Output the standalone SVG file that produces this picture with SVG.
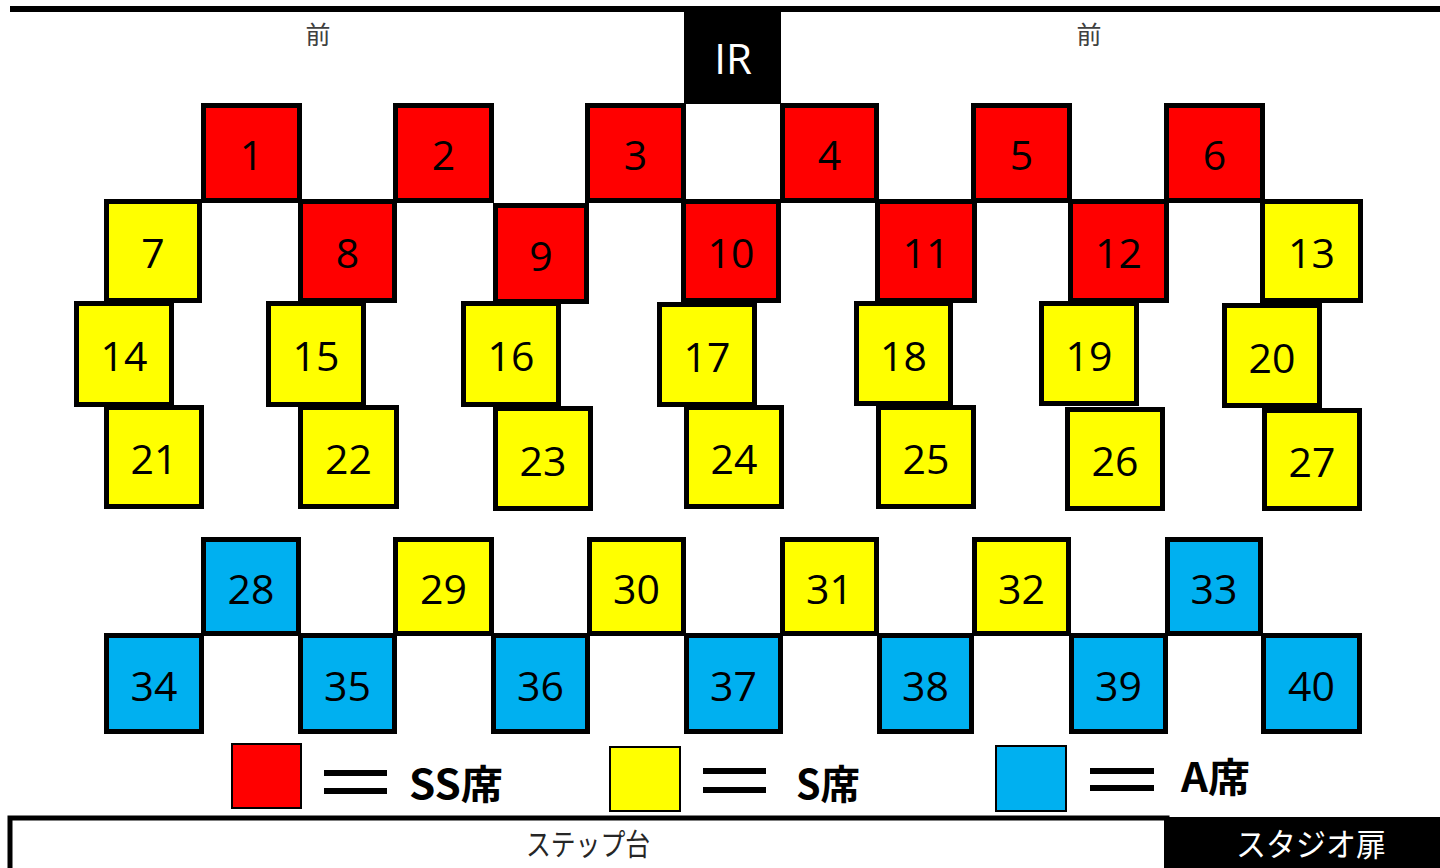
<svg xmlns="http://www.w3.org/2000/svg" width="1440" height="868" viewBox="0 0 1440 868">
<style>
.ss{fill:#FF0000;stroke:#000;stroke-width:5}
.s{fill:#FFFF00;stroke:#000;stroke-width:5}
.a{fill:#00B0F0;stroke:#000;stroke-width:5}
.num{font-family:"Open Sans","Noto Sans",sans-serif;font-size:41px;fill:#000;text-anchor:middle}
.lg{stroke:#000;stroke-width:2}
.lgt{font-family:"Noto Sans CJK JP","Noto Sans",sans-serif;font-weight:bold;font-size:40px;fill:#000}
.mae{font-family:"Noto Sans CJK JP",sans-serif;font-size:25px;fill:#404040;text-anchor:middle}
</style>
<rect width="1440" height="868" fill="#fff"/>
<g id="wall">
<line x1="10" y1="9" x2="1440" y2="9" stroke="#000" stroke-width="6"/>
<text class="mae" x="318" y="44">前</text>
<text class="mae" x="1089" y="44">前</text>
</g>
<g id="ir">
<rect x="684" y="10" width="97" height="94" fill="#000"/>
<text x="733" y="74" font-family="Open Sans,Noto Sans,sans-serif" font-size="42" fill="#fff" text-anchor="middle">IR</text>
</g>
<g id="seat-1"><rect class="ss" x="203.5" y="105.5" width="96" height="95"/><text class="num" x="251.5" y="170">1</text></g>
<g id="seat-2"><rect class="ss" x="395.5" y="105.5" width="96" height="95"/><text class="num" x="443.5" y="170">2</text></g>
<g id="seat-3"><rect class="ss" x="587.5" y="105.5" width="96" height="95"/><text class="num" x="635.5" y="170">3</text></g>
<g id="seat-4"><rect class="ss" x="782.5" y="105.5" width="94" height="95"/><text class="num" x="829.5" y="170">4</text></g>
<g id="seat-5"><rect class="ss" x="973.5" y="105.5" width="96" height="95"/><text class="num" x="1021.5" y="170">5</text></g>
<g id="seat-6"><rect class="ss" x="1166.5" y="105.5" width="96" height="95"/><text class="num" x="1214.5" y="170">6</text></g>
<g id="seat-7"><rect class="s" x="106.5" y="201.5" width="93" height="99"/><text class="num" x="153" y="268">7</text></g>
<g id="seat-8"><rect class="ss" x="300.5" y="201.5" width="94" height="99"/><text class="num" x="347.5" y="268">8</text></g>
<g id="seat-9"><rect class="ss" x="495.5" y="205.5" width="91" height="96"/><text class="num" x="541" y="270.5">9</text></g>
<g id="seat-10"><rect class="ss" x="683.5" y="201.5" width="95" height="99"/><text class="num" x="731" y="268">10</text></g>
<g id="seat-11"><rect class="ss" x="877.5" y="201.5" width="97" height="99"/><text class="num" x="926" y="268">11</text></g>
<g id="seat-12"><rect class="ss" x="1070.5" y="201.5" width="96" height="99"/><text class="num" x="1118.5" y="268">12</text></g>
<g id="seat-13"><rect class="s" x="1262.5" y="201.5" width="98" height="99"/><text class="num" x="1311.5" y="268">13</text></g>
<g id="seat-14"><rect class="s" x="76.5" y="303.5" width="95" height="101"/><text class="num" x="124" y="371">14</text></g>
<g id="seat-15"><rect class="s" x="268.5" y="303.5" width="95" height="101"/><text class="num" x="316" y="371">15</text></g>
<g id="seat-16"><rect class="s" x="463.5" y="303.5" width="95" height="101"/><text class="num" x="511" y="371">16</text></g>
<g id="seat-17"><rect class="s" x="659.5" y="304.5" width="95" height="100"/><text class="num" x="707" y="371.5">17</text></g>
<g id="seat-18"><rect class="s" x="856.5" y="303.5" width="94" height="100"/><text class="num" x="903.5" y="370.5">18</text></g>
<g id="seat-19"><rect class="s" x="1041.5" y="303.5" width="95" height="100"/><text class="num" x="1089" y="370.5">19</text></g>
<g id="seat-20"><rect class="s" x="1224.5" y="305.5" width="95" height="100"/><text class="num" x="1272" y="372.5">20</text></g>
<g id="seat-21"><rect class="s" x="106.5" y="407.5" width="95" height="99"/><text class="num" x="154" y="474">21</text></g>
<g id="seat-22"><rect class="s" x="300.5" y="407.5" width="96" height="99"/><text class="num" x="348.5" y="474">22</text></g>
<g id="seat-23"><rect class="s" x="495.5" y="408.5" width="95" height="100"/><text class="num" x="543" y="475.5">23</text></g>
<g id="seat-24"><rect class="s" x="686.5" y="407.5" width="95" height="99"/><text class="num" x="734" y="474">24</text></g>
<g id="seat-25"><rect class="s" x="878.5" y="407.5" width="95" height="99"/><text class="num" x="926" y="474">25</text></g>
<g id="seat-26"><rect class="s" x="1067.5" y="409.5" width="95" height="99"/><text class="num" x="1115" y="476">26</text></g>
<g id="seat-27"><rect class="s" x="1264.5" y="410.5" width="95" height="98"/><text class="num" x="1312" y="476.5">27</text></g>
<g id="seat-28"><rect class="a" x="203.5" y="539.5" width="95" height="94"/><text class="num" x="251" y="603.5">28</text></g>
<g id="seat-29"><rect class="s" x="395.5" y="539.5" width="96" height="94"/><text class="num" x="443.5" y="603.5">29</text></g>
<g id="seat-30"><rect class="s" x="589.5" y="539.5" width="94" height="94"/><text class="num" x="636.5" y="603.5">30</text></g>
<g id="seat-31"><rect class="s" x="782.5" y="539.5" width="94" height="94"/><text class="num" x="829.5" y="603.5">31</text></g>
<g id="seat-32"><rect class="s" x="974.5" y="539.5" width="94" height="94"/><text class="num" x="1021.5" y="603.5">32</text></g>
<g id="seat-33"><rect class="a" x="1167.5" y="539.5" width="93" height="94"/><text class="num" x="1214" y="603.5">33</text></g>
<g id="seat-34"><rect class="a" x="106.5" y="635.5" width="95" height="96"/><text class="num" x="154" y="700.5">34</text></g>
<g id="seat-35"><rect class="a" x="300.5" y="635.5" width="94" height="96"/><text class="num" x="347.5" y="700.5">35</text></g>
<g id="seat-36"><rect class="a" x="493.5" y="635.5" width="94" height="96"/><text class="num" x="540.5" y="700.5">36</text></g>
<g id="seat-37"><rect class="a" x="686.5" y="635.5" width="94" height="96"/><text class="num" x="733.5" y="700.5">37</text></g>
<g id="seat-38"><rect class="a" x="879.5" y="635.5" width="92" height="96"/><text class="num" x="925.5" y="700.5">38</text></g>
<g id="seat-39"><rect class="a" x="1071.5" y="635.5" width="94" height="96"/><text class="num" x="1118.5" y="700.5">39</text></g>
<g id="seat-40"><rect class="a" x="1263.5" y="635.5" width="96" height="96"/><text class="num" x="1311.5" y="700.5">40</text></g>
<g id="legend-ss">
<rect class="lg" x="232" y="744" width="69" height="64" fill="#FF0000"/>
<rect x="324" y="770" width="63" height="6"/>
<rect x="324" y="788" width="63" height="6"/>
<text class="lgt" x="409" y="799" textLength="94" lengthAdjust="spacingAndGlyphs">SS席</text>
</g>
<g id="legend-s">
<rect class="lg" x="610" y="747" width="70" height="64" fill="#FFFF00"/>
<rect x="703" y="768" width="63" height="6"/>
<rect x="703" y="787" width="63" height="6"/>
<text class="lgt" x="796" y="799" textLength="64" lengthAdjust="spacingAndGlyphs">S席</text>
</g>
<g id="legend-a">
<rect class="lg" x="996" y="746" width="70" height="65" fill="#00B0F0"/>
<rect x="1090" y="768" width="64" height="6"/>
<rect x="1090" y="785" width="64" height="6"/>
<text class="lgt" x="1181" y="792" textLength="69" lengthAdjust="spacingAndGlyphs">A席</text>
</g>
<g id="step">
<rect x="10" y="818" width="1157" height="55" fill="#fff" stroke="#000" stroke-width="5"/>
<text x="588" y="855" font-family="Noto Sans CJK JP,sans-serif" font-size="30" fill="#262626" text-anchor="middle" textLength="124" lengthAdjust="spacingAndGlyphs">ステップ台</text>
</g>
<g id="door">
<rect x="1164" y="817" width="276" height="51" fill="#000"/>
<text x="1311" y="856" font-family="Noto Sans CJK JP,sans-serif" font-size="32" fill="#fff" text-anchor="middle" textLength="150" lengthAdjust="spacingAndGlyphs">スタジオ扉</text>
</g>
</svg>
